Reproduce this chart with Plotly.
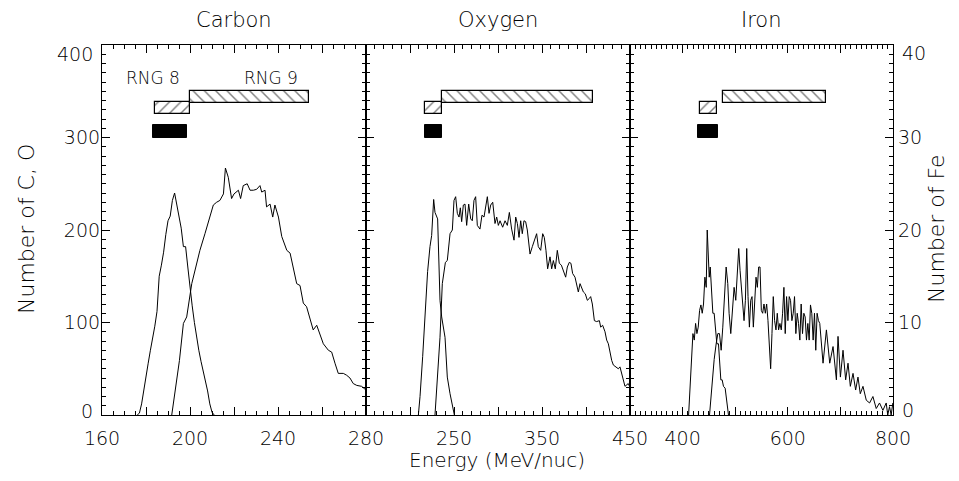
import plotly.graph_objects as go

# ---------------- data ----------------
# Carbon, range 8 and range 9 energy distributions
c8_e = list(range(176, 212))
c8_n = [0, 2, 12, 28, 44, 56, 70, 82, 96, 112, 150, 162, 176, 195, 210, 215, 232, 240, 228, 212,
        202, 182, 182, 160, 136, 118, 100, 82, 70, 58, 48, 38, 26, 12, 3, 0]

c9_e = [191.7, 193.6, 195.2, 197.0, 198.5, 200.8, 202.7, 204.5, 206.8, 209.1,
        210.6, 212.1, 213.6, 215.2, 216.1, 217.4, 218.9, 220.0, 222.0, 223.0,
        224.2, 226.0, 227.3, 228.8, 230.3, 231.8, 232.6, 234.1, 234.8, 236.4,
        237.6, 238.6, 240.2, 241.7, 244.0, 245.5, 247.0, 248.5, 250.0, 251.5,
        253.0, 254.5, 256.0, 257.6, 259.1, 260.6, 262.9, 264.4, 265.9, 267.4,
        269.7, 271.2, 272.7, 274.2, 275.8, 278.0, 279.5, 281.0]
c9_n = [0, 34, 59, 99, 106, 142, 160, 178, 196, 214,
        227, 230, 232, 239, 267, 257, 234, 239, 243, 234,
        248, 250, 243, 243, 244, 248, 241, 243, 225, 228,
        214, 227, 214, 193, 178, 175, 160, 142, 140, 121,
        117, 103, 92, 97, 86, 77, 70, 68, 56, 45,
        45, 43, 40, 34, 32, 31, 28, 26]

# Oxygen
o8_e = [209.5, 211.4, 214.4, 217.4, 220.0, 222.7, 224.6, 226.9, 228.4, 231.4,
        232.8, 234.1, 236.0, 239.8, 242.4, 245.5, 250.4]
o8_n = [0, 20, 63, 120, 155, 182, 194, 233, 219, 212, 170, 124, 106, 84, 41, 23, 0]

o9_e = [228.4, 231.0, 234.1, 236.7, 238.6, 240.2, 242.4, 243.6, 245.5, 248.1,
        250.0, 251.9, 253.8, 255.7, 257.2, 258.7, 260.6, 262.5, 264.4, 266.7,
        269.0, 270.8, 272.7, 274.6, 276.5, 279.5, 281.8, 284.1, 286.4, 287.9,
        289.8, 291.7, 294.0, 296.6, 298.5, 300.4, 302.3, 305.3, 308.0, 310.6,
        312.9, 315.5, 318.2, 320.1, 322.0, 323.9, 325.8, 327.6, 329.5, 331.4,
        333.3, 336.4, 339.0, 341.3, 343.9, 345.8, 348.5, 350.8, 352.6, 354.5,
        356.4, 359.1, 361.0, 362.9, 365.1, 367.4, 369.7, 372.0, 374.2, 376.9,
        378.8, 381.0, 382.9, 384.8, 387.5, 389.4, 391.3, 393.2, 395.1, 397.0,
        399.2, 401.5, 403.8, 405.3, 407.2, 409.5, 412.1, 415.2, 416.7, 418.9,
        421.6, 423.5, 425.4, 427.3, 429.2, 431.1, 434.1, 436.7, 438.6, 441.5,
        444.3, 448.0, 450.0]
o9_n = [0, 34, 84, 142, 156, 165, 167, 182, 196, 200,
        232, 236, 218, 214, 224, 209, 227, 228, 205, 228,
        212, 210, 232, 236, 205, 201, 216, 214, 228, 236,
        218, 227, 230, 207, 214, 205, 210, 203, 210, 205,
        219, 201, 189, 214, 207, 192, 210, 196, 210, 209,
        200, 174, 182, 189, 196, 182, 178, 196, 192, 178,
        158, 171, 158, 167, 158, 178, 164, 162, 156, 149,
        160, 165, 164, 153, 149, 142, 133, 142, 138, 133,
        131, 124, 126, 128, 120, 102, 101, 102, 95, 97,
        90, 81, 77, 66, 59, 54, 52, 50, 52, 40,
        31, 34, 30]

# Iron (counts on the right-hand axis)
f8_e = [411.4, 414.6, 417.1, 419.6, 422.2, 424.7, 427.2, 429.7, 432.3, 434.8,
        437.3, 439.8, 442.4, 444.9, 446.8, 448.7, 450.6, 452.5, 455.0, 457.5,
        460.0, 462.6, 465.1, 468.2, 470.1, 472.7, 475.2, 477.7, 480.9, 484.0, 487.2]
f8_n = [0, 3.4, 5.2, 8.8, 8.1, 9.9, 8.8, 9.5, 11.3, 11.9,
        11.0, 12.0, 14.9, 13.8, 20.0, 16.0, 14.9, 16.0, 13.1, 11.0,
        11.0, 8.8, 7.7, 7.7, 6.3, 3.8, 3.8, 3.1, 2.9, 1.6, 0]

f9_e = [451.2, 453.7, 457.5, 460.0, 463.8, 467.0, 470.1, 473.3, 476.4, 479.6,
        482.8, 485.9, 488.4, 491.6, 494.7, 497.9, 501.1, 504.2, 506.7, 509.3,
        511.8, 514.3, 516.8, 519.4, 521.9, 524.4, 527.0, 529.5, 532.0, 534.5,
        537.0, 539.6, 542.1, 544.6, 547.2, 549.7, 552.2, 554.7, 557.3, 559.8,
        562.3, 564.8, 567.4, 569.9, 572.4, 574.9, 577.5, 580.0, 582.5, 585.0,
        587.6, 590.1, 592.6, 595.1, 597.7, 600.2, 602.7, 605.2, 607.8, 610.3,
        612.8, 615.3, 617.9, 620.4, 622.9, 625.4, 628.0, 630.5, 633.0, 635.5,
        638.1, 640.6, 643.1, 645.6, 648.2, 650.7, 653.2, 655.7, 658.3, 660.8,
        667.0, 673.4, 679.7, 686.0, 692.4, 695.5, 700.0, 705.0, 710.0, 714.5,
        718.9, 724.0, 729.0, 733.4, 737.8, 742.9, 749.2, 755.5, 761.8, 768.1,
        774.4, 780.8, 787.1, 790.0, 793.4, 796.5, 799.7]
f9_n = [0, 2.0, 4.9, 6.0, 7.7, 8.8, 8.8, 7.0, 9.5, 12.4,
        16.0, 14.2, 11.0, 8.8, 11.3, 13.8, 12.4, 16.0, 18.0, 15.6,
        13.8, 11.0, 10.2, 12.4, 18.0, 12.8, 9.5, 12.4, 12.8, 9.5,
        12.0, 14.9, 13.8, 16.0, 16.0, 11.3, 11.0, 12.0, 11.0, 12.0,
        10.2, 8.1, 5.0, 8.8, 12.8, 10.2, 9.2, 11.0, 9.2, 9.9,
        9.2, 11.0, 13.8, 8.8, 12.8, 10.2, 12.8, 12.4, 10.2, 11.0,
        12.8, 8.8, 11.0, 9.9, 8.1, 12.0, 8.8, 11.0, 10.6, 8.1,
        9.9, 8.1, 11.9, 11.0, 8.1, 11.0, 7.0, 11.0, 10.2, 9.9,
        5.6, 9.2, 5.6, 7.4, 3.8, 8.5, 4.1, 7.0, 3.8, 5.6,
        3.1, 4.5, 2.7, 4.1, 2.3, 3.1, 1.6, 1.3, 2.0, 0.7,
        1.3, 0.5, 1.3, 0, 0.9, 0, 1.3]

# Energy windows (low, high) and count levels (bottom, top) for the boxes
c_rng8 = (184, 200);  c_rng9 = (200, 254);  c_sel = (183, 198.5)
o_rng8 = (217.4, 236); o_rng9 = (236, 407.6); o_sel = (217, 236)
f_rng8 = (433.5, 465); f_rng9 = (477.7, 672); f_sel = (428.5, 467)
lvl_rng8 = (325, 338); lvl_rng9 = (337.5, 350); lvl_sel = (300, 313)
fe_scale = 10.0  # C,O axis units per Fe axis unit

panel_titles = ["Carbon", "Oxygen", "Iron"]
co_ticks = [0, 100, 200, 300, 400]
fe_ticks = [0, 10, 20, 30, 40]

# ---------------- figure ----------------
FONT = "DejaVu Sans"
FW = 300
fig = go.Figure()

line_style = dict(color="black", width=1.0)


def add_curve(e, n, xa, ya):
    fig.add_trace(go.Scatter(x=e, y=n, mode="lines", line=line_style,
                             xaxis=xa, yaxis=ya, showlegend=False, hoverinfo="skip"))


def add_box(rng, lvl, xa, ya, shape, scale=1.0):
    lo, hi = rng
    b0, b1 = lvl[0] / scale, lvl[1] / scale
    if shape is None:
        marker = dict(color="black", line=dict(color="black", width=1))
    else:
        marker = dict(color="white", line=dict(color="black", width=1.2),
                      pattern=dict(shape=shape, fgcolor="black", bgcolor="white",
                                   size=8, solidity=0.18))
    fig.add_trace(go.Bar(x=[(lo + hi) / 2], y=[b1 - b0], base=[b0], width=[hi - lo],
                         marker=marker, xaxis=xa, yaxis=ya, showlegend=False,
                         hoverinfo="skip"))


add_curve(c8_e, c8_n, "x", "y")
add_curve(c9_e, c9_n, "x", "y")
add_curve(o8_e, o8_n, "x2", "y2")
add_curve(o9_e, o9_n, "x2", "y2")
add_curve(f8_e, f8_n, "x3", "y3")
add_curve(f9_e, f9_n, "x3", "y3")

add_box(c_rng8, lvl_rng8, "x", "y", "/")
add_box(c_rng9, lvl_rng9, "x", "y", "\\")
add_box(c_sel, lvl_sel, "x", "y", None)
add_box(o_rng8, lvl_rng8, "x2", "y2", "/")
add_box(o_rng9, lvl_rng9, "x2", "y2", "\\")
add_box(o_sel, lvl_sel, "x2", "y2", None)
add_box(f_rng8, lvl_rng8, "x3", "y3", "/", fe_scale)
add_box(f_rng9, lvl_rng9, "x3", "y3", "\\", fe_scale)
add_box(f_sel, lvl_sel, "x3", "y3", None, fe_scale)

# page has an 8px body margin -> compensate
OFF = 8
W, H = 959 - 2 * OFF, 481 - 2 * OFF
L, T = 102 - OFF, 45 - OFF
R = W - (893 - OFF)
B = H - (415 - OFF)
pw = W - L - R
ph = H - T - B
d1 = 264 / pw
d2 = 528 / pw

tickfont = dict(family=FONT, size=19, color="black", weight=FW)
common = dict(showline=True, linecolor="black", linewidth=1.2, mirror="ticks",
              ticks="inside", ticklen=8, tickwidth=1, tickcolor="black",
              showgrid=False, zeroline=False, tickfont=tickfont, fixedrange=True)


def xax(dom, rng, vals, texts, minor, anchor):
    return dict(domain=dom, range=rng, anchor=anchor, tickmode="array",
                tickvals=vals, ticktext=texts, ticklabelstandoff=6,
                minor=dict(dtick=minor, tick0=rng[0], ticks="inside", ticklen=4,
                           tickwidth=1, tickcolor="black", showgrid=False),
                **common)


yminor = dict(ticks="inside", ticklen=4, tickwidth=1, tickcolor="black", showgrid=False)

# end labels (bottom / top) are drawn as annotations, shifted inward like the original
co_text = [""] + [str(v) for v in co_ticks[1:-1]] + [""]
fe_text = [""] + [str(v) for v in fe_ticks[1:-1]] + [""]

fig.update_layout(
    width=W, height=H,
    margin=dict(l=L, r=R, t=T, b=B, pad=0),
    paper_bgcolor="white", plot_bgcolor="white",
    barmode="overlay", bargap=0,
    xaxis=xax([0, d1], [160, 280], [160, 180, 200, 220, 240, 260, 280],
              ["160", "", "200", "", "240", "", "280"], 5, "y"),
    xaxis2=xax([d1, d2], [150, 450], [150, 200, 250, 300, 350, 400, 450],
               ["", "", "250", "", "350", "", "450"], 10, "y2"),
    xaxis3=xax([d2, 1], [300, 800], [300, 400, 500, 600, 700, 800],
               ["", "400", "", "600", "", "800"], 10, "y3"),
    yaxis=dict(domain=[0, 1], range=[0, 400], anchor="x", tickmode="array",
               tickvals=co_ticks, ticktext=co_text, ticklabelstandoff=-3,
               minor=dict(dtick=10, **yminor), **common),
    yaxis2=dict(domain=[0, 1], range=[0, 400], anchor="x2", tickmode="array",
                tickvals=co_ticks, showticklabels=False,
                minor=dict(dtick=10, **yminor), **common),
    yaxis3=dict(domain=[0, 1], range=[0, 40], anchor="x3", side="right",
                tickmode="array", tickvals=fe_ticks, ticktext=fe_text,
                minor=dict(dtick=1, **yminor), **common),
)


def px_x(x):  # page pixel -> paper x
    return (x - OFF - L) / pw


def px_y(y):  # page pixel -> paper y
    return (H - B - (y - OFF)) / ph


lab_font = dict(family=FONT, size=19, color="black", weight=FW)
side_font = dict(family=FONT, size=22, color="black", weight=FW)
ann = []
centers = [d1 / 2, (d1 + d2) / 2, (d2 + 1) / 2]
for t, cx in zip(panel_titles, centers):
    ann.append(dict(text=t, x=cx, y=px_y(20), xref="paper", yref="paper",
                    showarrow=False, font=dict(family=FONT, size=21, color="black", weight=FW),
                    xanchor="center", yanchor="middle"))
ann.append(dict(text="RNG 8", x=183, y=364, xref="x", yref="y", showarrow=False,
                font=dict(family=FONT, size=17, color="black", weight=FW)))
ann.append(dict(text="RNG 9", x=237, y=364, xref="x", yref="y", showarrow=False,
                font=dict(family=FONT, size=17, color="black", weight=FW)))
# shifted end labels of the count axes
ann.append(dict(text=str(co_ticks[-1]), x=px_x(95), y=px_y(54), xref="paper", yref="paper",
                showarrow=False, font=lab_font, xanchor="right", yanchor="middle"))
ann.append(dict(text=str(co_ticks[0]), x=px_x(95), y=px_y(411), xref="paper", yref="paper",
                showarrow=False, font=lab_font, xanchor="right", yanchor="middle"))
ann.append(dict(text=str(fe_ticks[-1]), x=px_x(900), y=px_y(53), xref="paper", yref="paper",
                showarrow=False, font=lab_font, xanchor="left", yanchor="middle"))
ann.append(dict(text=str(fe_ticks[0]), x=px_x(900), y=px_y(410), xref="paper", yref="paper",
                showarrow=False, font=lab_font, xanchor="left", yanchor="middle"))
ann.append(dict(text="Energy (MeV/nuc)", x=px_x(497), y=px_y(474), xref="paper",
                yref="paper", showarrow=False,
                font=dict(family=FONT, size=20, color="black", weight=FW),
                xanchor="center", yanchor="bottom"))
ann.append(dict(text="Number of C, O", x=px_x(26), y=px_y(229), xref="paper",
                yref="paper", textangle=-90, showarrow=False, font=side_font,
                xanchor="center", yanchor="middle"))
ann.append(dict(text="Number of Fe", x=px_x(936), y=px_y(229), xref="paper",
                yref="paper", textangle=-90, showarrow=False, font=side_font,
                xanchor="center", yanchor="middle"))
fig.update_layout(annotations=ann)

fig.write_html("out.html")
